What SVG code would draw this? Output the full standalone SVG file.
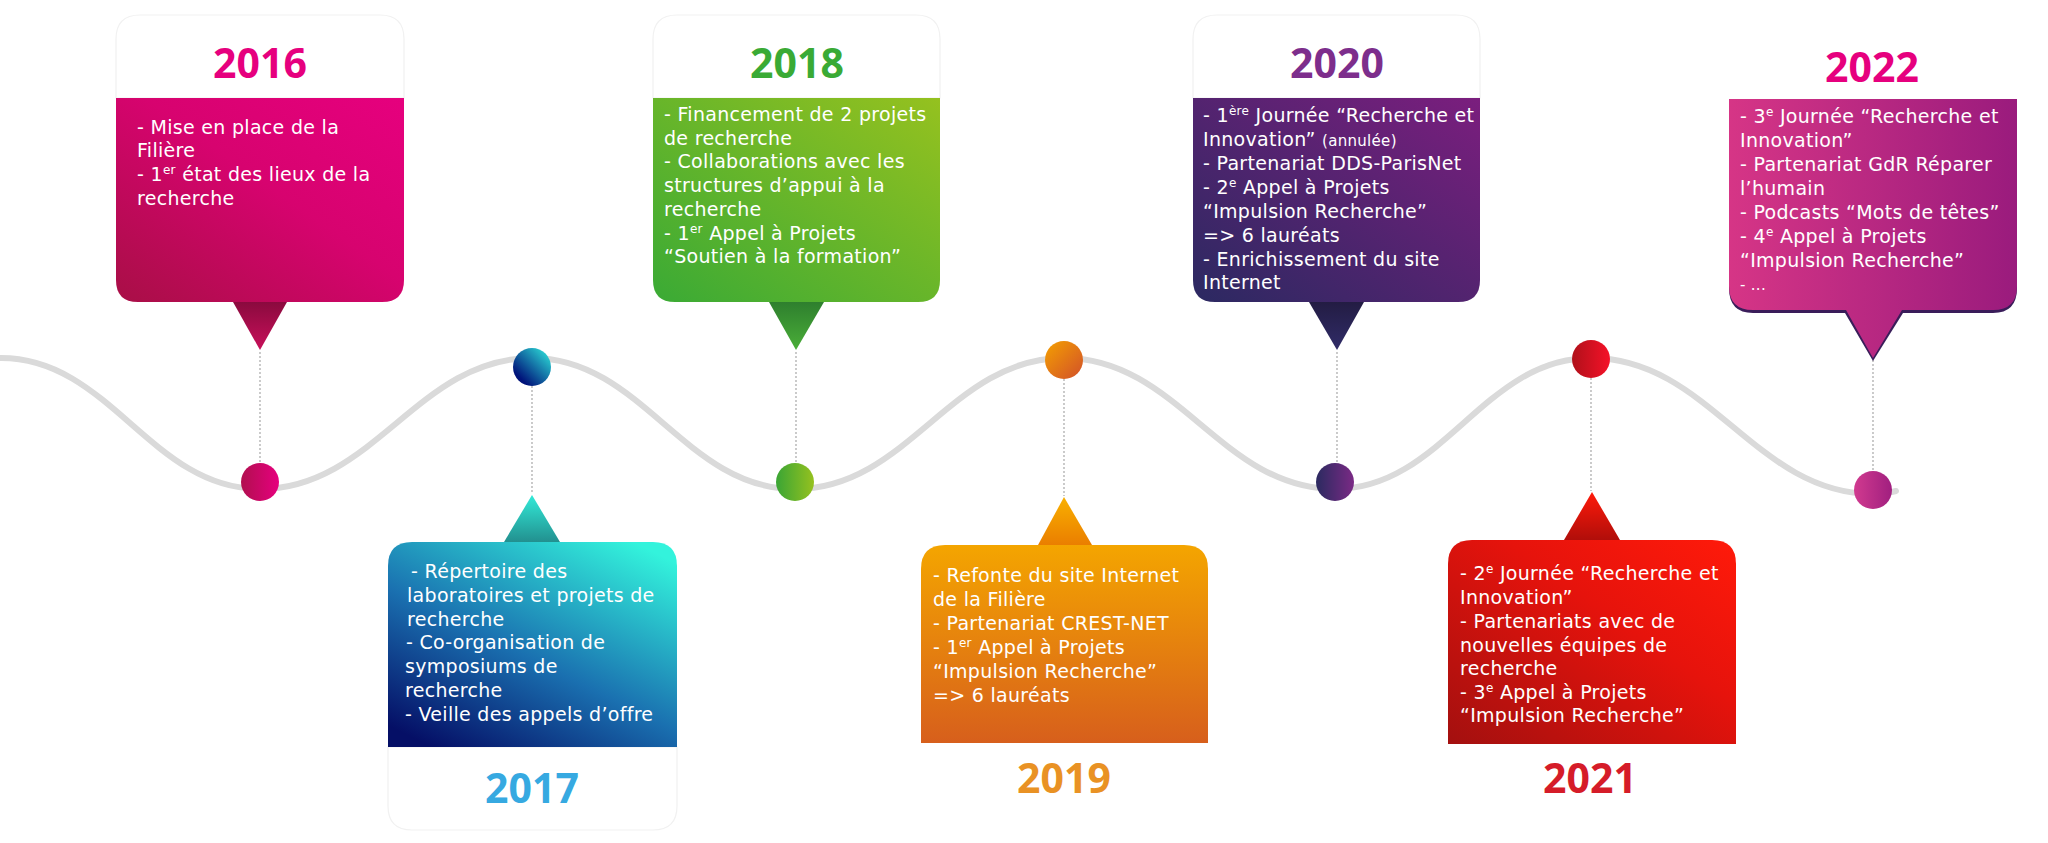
<svg xmlns="http://www.w3.org/2000/svg" width="2048" height="843" viewBox="0 0 2048 843">
<style>
.body{font-family:"DejaVu Sans","Noto Sans",sans-serif;font-size:19px;fill:#ffffff;letter-spacing:0.3px}
.yr{font-family:"Open Sans","Liberation Sans",sans-serif;font-size:41px;font-weight:700;text-anchor:middle}
.card{fill:#ffffff;stroke:#f1f1f1;stroke-width:1.2}
.dash{stroke:#a8a8a8;stroke-width:1.2;stroke-dasharray:2 2;fill:none}
.sup{font-size:12px}
</style>
<defs>
<linearGradient id="g16" x1="0" y1="1" x2="1" y2="0"><stop offset="0" stop-color="#a80f46"/><stop offset="0.55" stop-color="#d7036f"/><stop offset="1" stop-color="#e6007e"/></linearGradient>
<linearGradient id="p16" x1="0" y1="0" x2="0" y2="1"><stop offset="0" stop-color="#8a0a3e"/><stop offset="1" stop-color="#c8105a"/></linearGradient>
<linearGradient id="d16" x1="0" y1="0" x2="1" y2="0"><stop offset="0" stop-color="#b10f4f"/><stop offset="1" stop-color="#e6007e"/></linearGradient>

<linearGradient id="g17" x1="0.15" y1="1" x2="0.85" y2="0"><stop offset="0" stop-color="#050f66"/><stop offset="0.45" stop-color="#1a70b0"/><stop offset="1" stop-color="#33f3dc"/></linearGradient>
<linearGradient id="p17" x1="0" y1="0" x2="0" y2="1"><stop offset="0" stop-color="#32ead8"/><stop offset="1" stop-color="#22908f"/></linearGradient>
<linearGradient id="d17" x1="0" y1="1" x2="1" y2="0"><stop offset="0.2" stop-color="#00137a"/><stop offset="1" stop-color="#30f0e0"/></linearGradient>

<linearGradient id="g18" x1="0" y1="1" x2="1" y2="0"><stop offset="0" stop-color="#3aaa35"/><stop offset="1" stop-color="#95c11f"/></linearGradient>
<linearGradient id="p18" x1="0" y1="0" x2="0" y2="1"><stop offset="0" stop-color="#2e7f2e"/><stop offset="1" stop-color="#4aae38"/></linearGradient>
<linearGradient id="d18" x1="0" y1="0" x2="1" y2="0"><stop offset="0" stop-color="#3aa535"/><stop offset="1" stop-color="#95c11f"/></linearGradient>

<linearGradient id="g19" x1="0" y1="0" x2="0" y2="1"><stop offset="0" stop-color="#f4a500"/><stop offset="1" stop-color="#d75f1c"/></linearGradient>
<linearGradient id="p19" x1="0" y1="0" x2="0" y2="1"><stop offset="0" stop-color="#f9b000"/><stop offset="1" stop-color="#ea7e00"/></linearGradient>
<linearGradient id="d19" x1="0" y1="0" x2="1" y2="1"><stop offset="0" stop-color="#f4a000"/><stop offset="1" stop-color="#d2502a"/></linearGradient>

<linearGradient id="g20" x1="0" y1="1" x2="1" y2="0"><stop offset="0" stop-color="#2b2961"/><stop offset="1" stop-color="#7b1e7e"/></linearGradient>
<linearGradient id="p20" x1="0" y1="0" x2="0" y2="1"><stop offset="0" stop-color="#231c43"/><stop offset="1" stop-color="#302c68"/></linearGradient>
<linearGradient id="d20" x1="0" y1="0" x2="1" y2="0"><stop offset="0" stop-color="#2b2a60"/><stop offset="1" stop-color="#7a2a85"/></linearGradient>

<linearGradient id="g21" x1="0" y1="1" x2="1" y2="0"><stop offset="0" stop-color="#a3100f"/><stop offset="0.6" stop-color="#e6130c"/><stop offset="1" stop-color="#ff1a0a"/></linearGradient>
<linearGradient id="p21" x1="0" y1="0" x2="0" y2="1"><stop offset="0" stop-color="#ff1a0a"/><stop offset="1" stop-color="#b00e0a"/></linearGradient>
<linearGradient id="d21" x1="0" y1="0" x2="1" y2="0"><stop offset="0" stop-color="#b0101a"/><stop offset="1" stop-color="#f51228"/></linearGradient>

<linearGradient id="g22" x1="0" y1="0" x2="1" y2="0"><stop offset="0" stop-color="#d63586"/><stop offset="1" stop-color="#9a1b7d"/></linearGradient>
<linearGradient id="d22" x1="0" y1="0" x2="1" y2="0"><stop offset="0" stop-color="#d13a8f"/><stop offset="1" stop-color="#a01f7f"/></linearGradient>
</defs>

<rect width="2048" height="843" fill="#ffffff"/>

<g id="connectors">
<path d="M1,358 C110,358 151,489 260,489 C374,489 418,358 532,358 C642,358 685,489 795,489 C908,489 951,358 1064,358 C1178,358 1221,489 1335,489 C1443,489 1483,358 1591,358 C1709,358 1755,494 1873,494 C1882,494 1889,493 1896,491" fill="none" stroke="#dadada" stroke-width="6" stroke-linecap="round"/>
<line class="dash" x1="260" y1="352" x2="260" y2="463"/>
<line class="dash" x1="532" y1="386" x2="532" y2="494"/>
<line class="dash" x1="796" y1="352" x2="796" y2="463"/>
<line class="dash" x1="1064" y1="379" x2="1064" y2="496"/>
<line class="dash" x1="1337" y1="352" x2="1337" y2="463"/>
<line class="dash" x1="1591" y1="378" x2="1591" y2="491"/>
<line class="dash" x1="1873" y1="360" x2="1873" y2="471"/>
</g>

<g id="dots">
<circle cx="260" cy="482" r="19" fill="url(#d16)"/>
<circle cx="532" cy="367" r="19" fill="url(#d17)"/>
<circle cx="795" cy="482" r="19" fill="url(#d18)"/>
<circle cx="1064" cy="360" r="19" fill="url(#d19)"/>
<circle cx="1335" cy="482" r="19" fill="url(#d20)"/>
<circle cx="1591" cy="359" r="19" fill="url(#d21)"/>
<circle cx="1873" cy="490" r="19" fill="url(#d22)"/>
</g>

<g id="n2016">
<path class="card" d="M116,98 V39 Q116,15 140,15 H380 Q404,15 404,39 V98 Z"/>
<path d="M116,98 H404 V280 Q404,302 382,302 H138 Q116,302 116,280 Z" fill="url(#g16)"/>
<path d="M233,302 H287 L260,350 Z" fill="url(#p16)"/>
<text class="yr" x="260" y="78" fill="#e6007e">2016</text>
<text class="body"><tspan x="137" y="134">- Mise en place de la</tspan><tspan x="137" y="157">Filière</tspan><tspan x="137" y="181">- 1</tspan><tspan class="sup" dy="-7">er</tspan><tspan dy="7"> état des lieux de la</tspan><tspan x="137" y="205">recherche</tspan></text>
</g>

<g id="n2017">
<path class="card" d="M388,747 H677 V806 Q677,830 653,830 H412 Q388,830 388,806 Z"/>
<path d="M388,747 V566 Q388,542 412,542 H653 Q677,542 677,566 V747 Z" fill="url(#g17)"/>
<path d="M504,542 H560 L532,495 Z" fill="url(#p17)"/>
<text class="yr" x="532" y="803" fill="#36a9e1">2017</text>
<text class="body"><tspan x="411" y="578">- Répertoire des</tspan><tspan x="407" y="602">laboratoires et projets de</tspan><tspan x="407" y="626">recherche</tspan><tspan x="406" y="649">- Co-organisation de</tspan><tspan x="405" y="673">symposiums de</tspan><tspan x="405" y="697">recherche</tspan><tspan x="405" y="721">- Veille des appels d’offre</tspan></text>
</g>

<g id="n2018">
<path class="card" d="M653,98 V39 Q653,15 677,15 H916 Q940,15 940,39 V98 Z"/>
<path d="M653,98 H940 V280 Q940,302 918,302 H675 Q653,302 653,280 Z" fill="url(#g18)"/>
<path d="M769,302 H824 L796,350 Z" fill="url(#p18)"/>
<text class="yr" x="797" y="78" fill="#3aaa35">2018</text>
<text class="body"><tspan x="664" y="121">- Financement de 2 projets</tspan><tspan x="664" y="145">de recherche</tspan><tspan x="664" y="168">- Collaborations avec les</tspan><tspan x="664" y="192">structures d’appui à la</tspan><tspan x="664" y="216">recherche</tspan><tspan x="664" y="240">- 1</tspan><tspan class="sup" dy="-7">er</tspan><tspan dy="7"> Appel à Projets</tspan><tspan x="664" y="263">“Soutien à la formation”</tspan></text>
</g>

<g id="n2019">
<path d="M921,743 V569 Q921,545 945,545 H1184 Q1208,545 1208,569 V743 Z" fill="url(#g19)"/>
<path d="M1038,545 H1092 L1064,497 Z" fill="url(#p19)"/>
<text class="yr" x="1064" y="793" fill="#e99224">2019</text>
<text class="body"><tspan x="933" y="582">- Refonte du site Internet</tspan><tspan x="933" y="606">de la Filière</tspan><tspan x="933" y="630">- Partenariat CREST-NET</tspan><tspan x="933" y="654">- 1</tspan><tspan class="sup" dy="-7">er</tspan><tspan dy="7"> Appel à Projets</tspan><tspan x="933" y="678">“Impulsion Recherche”</tspan><tspan x="933" y="702">=&gt; 6 lauréats</tspan></text>
</g>

<g id="n2020">
<path class="card" d="M1193,98 V39 Q1193,15 1217,15 H1456 Q1480,15 1480,39 V98 Z"/>
<path d="M1193,98 H1480 V280 Q1480,302 1458,302 H1215 Q1193,302 1193,280 Z" fill="url(#g20)"/>
<path d="M1309,302 H1364 L1337,350 Z" fill="url(#p20)"/>
<text class="yr" x="1337" y="78" fill="#7d2e8c">2020</text>
<text class="body"><tspan x="1203" y="122">- 1</tspan><tspan class="sup" dy="-7">ère</tspan><tspan dy="7"> Journée “Recherche et</tspan><tspan x="1203" y="146">Innovation” </tspan><tspan font-size="15">(annulée)</tspan><tspan x="1203" y="170">- Partenariat DDS-ParisNet</tspan><tspan x="1203" y="194">- 2</tspan><tspan class="sup" dy="-7">e</tspan><tspan dy="7"> Appel à Projets</tspan><tspan x="1203" y="218">“Impulsion Recherche”</tspan><tspan x="1203" y="242">=&gt; 6 lauréats</tspan><tspan x="1203" y="266">- Enrichissement du site</tspan><tspan x="1203" y="289">Internet</tspan></text>
</g>

<g id="n2021">
<path d="M1448,744 V564 Q1448,540 1472,540 H1712 Q1736,540 1736,564 V744 Z" fill="url(#g21)"/>
<path d="M1564,540 H1620 L1592,492 Z" fill="url(#p21)"/>
<text class="yr" x="1590" y="793" fill="#d51c29">2021</text>
<text class="body"><tspan x="1460" y="580">- 2</tspan><tspan class="sup" dy="-7">e</tspan><tspan dy="7"> Journée “Recherche et</tspan><tspan x="1460" y="604">Innovation”</tspan><tspan x="1460" y="628">- Partenariats avec de</tspan><tspan x="1460" y="652">nouvelles équipes de</tspan><tspan x="1460" y="675">recherche</tspan><tspan x="1460" y="699">- 3</tspan><tspan class="sup" dy="-7">e</tspan><tspan dy="7"> Appel à Projets</tspan><tspan x="1460" y="722">“Impulsion Recherche”</tspan></text>
</g>

<g id="n2022">
<path d="M1729,102 H2017 V288 Q2017,313 1993,313 H1903 L1873,361 L1845,313 H1753 Q1729,313 1729,288 Z" fill="#3a1d5a"/>
<path d="M1729,99 H2017 V286 Q2017,310 1993,310 H1902 L1873,358 L1846,310 H1753 Q1729,310 1729,286 Z" fill="url(#g22)"/>
<text class="yr" x="1872" y="82" fill="#e6007e">2022</text>
<text class="body"><tspan x="1740" y="123">- 3</tspan><tspan class="sup" dy="-7">e</tspan><tspan dy="7"> Journée “Recherche et</tspan><tspan x="1740" y="147">Innovation”</tspan><tspan x="1740" y="171">- Partenariat GdR Réparer</tspan><tspan x="1740" y="195">l’humain</tspan><tspan x="1740" y="219">- Podcasts “Mots de têtes”</tspan><tspan x="1740" y="243">- 4</tspan><tspan class="sup" dy="-7">e</tspan><tspan dy="7"> Appel à Projets</tspan><tspan x="1740" y="267">“Impulsion Recherche”</tspan><tspan x="1740" y="290" font-size="15">- ...</tspan></text>
</g>
</svg>
